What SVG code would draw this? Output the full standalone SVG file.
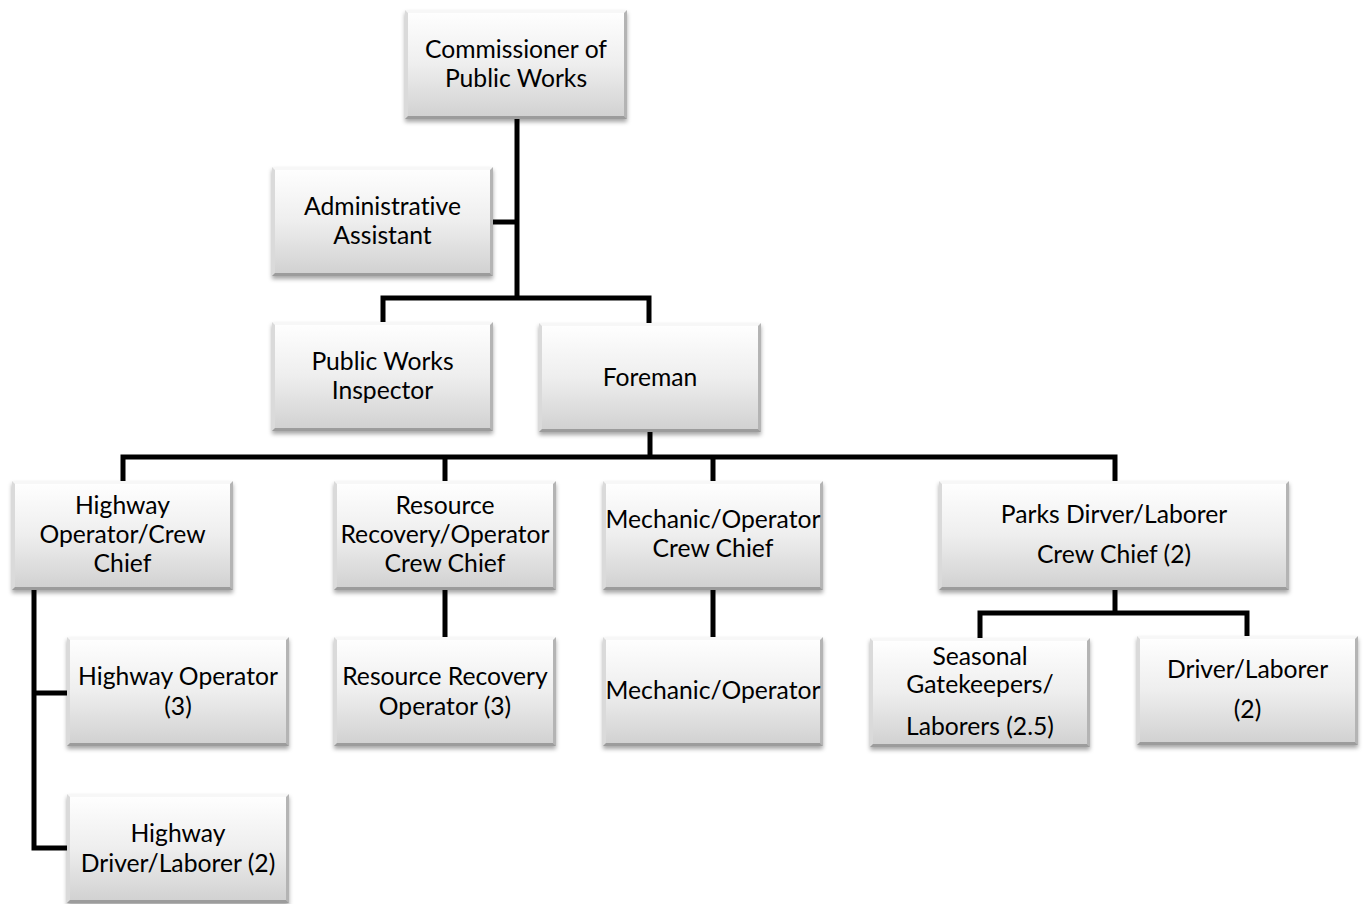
<svg xmlns="http://www.w3.org/2000/svg" width="1366" height="904" viewBox="0 0 1366 904">
<defs>
<linearGradient id="g" x1="0" y1="0" x2="0" y2="1">
<stop offset="0" stop-color="#ffffff"/>
<stop offset="0.5" stop-color="#eeeeee"/>
<stop offset="1" stop-color="#d0d0d0"/>
</linearGradient>
<filter id="sh" x="-5%" y="-5%" width="110%" height="120%">
<feDropShadow dx="0" dy="3" stdDeviation="2" flood-color="#000" flood-opacity="0.35"/>
</filter>
</defs>
<style>
.body{fill:url(#g);filter:url(#sh)}
.bt{fill:#f7f7f7}
.bl{fill:#dadada}
.br{fill:#b4b4b4}
.bb{fill:#9c9c9c}
.t{font-family:Lato,"Open Sans","Liberation Sans",sans-serif;font-size:24.7px;fill:#000;text-anchor:middle;font-variant-ligatures:none;font-feature-settings:"liga" 0,"clig" 0,"dlig" 0}
.c{fill:none;stroke:#000;stroke-width:5;stroke-linejoin:miter;stroke-linecap:butt}
</style>
<rect width="1366" height="904" fill="#fff"/>
<g id="connectors">
<path class="c" d="M517,119 V298"/>
<path class="c" d="M493,222 H517"/>
<path class="c" d="M383,322 V298 H649 V323"/>
<path class="c" d="M650,432 V457"/>
<path class="c" d="M123,481 V457 H1115 V481"/>
<path class="c" d="M445,457 V481"/>
<path class="c" d="M713,457 V481"/>
<path class="c" d="M34,590 V848 H67"/>
<path class="c" d="M34,693 H67"/>
<path class="c" d="M445,590 V637"/>
<path class="c" d="M713,590 V637"/>
<path class="c" d="M1115,590 V613"/>
<path class="c" d="M980,638 V613 H1247 V636"/>
</g>
<g id="n1">
<rect class="body" x="405" y="10" width="222" height="109"/>
<polygon class="bt" points="405,10 627,10 624,13 408,13"/><polygon class="bl" points="405,10 408,13 408,116 405,119"/><polygon class="br" points="627,10 627,119 624,116 624,13"/><polygon class="bb" points="405,119 408,116 624,116 627,119"/>
<text class="t" x="516" y="58">Commissioner of</text><text class="t" x="516" y="87">Public Works</text>
</g>
<g id="n2">
<rect class="body" x="272" y="167" width="221" height="109"/>
<polygon class="bt" points="272,167 493,167 490,170 275,170"/><polygon class="bl" points="272,167 275,170 275,273 272,276"/><polygon class="br" points="493,167 493,276 490,273 490,170"/><polygon class="bb" points="272,276 275,273 490,273 493,276"/>
<text class="t" x="382.5" y="215">Administrative</text><text class="t" x="382.5" y="244">Assistant</text>
</g>
<g id="n3">
<rect class="body" x="272" y="322" width="221" height="109"/>
<polygon class="bt" points="272,322 493,322 490,325 275,325"/><polygon class="bl" points="272,322 275,325 275,428 272,431"/><polygon class="br" points="493,322 493,431 490,428 490,325"/><polygon class="bb" points="272,431 275,428 490,428 493,431"/>
<text class="t" x="382.5" y="370">Public Works</text><text class="t" x="382.5" y="399">Inspector</text>
</g>
<g id="n4">
<rect class="body" x="539" y="323" width="222" height="109"/>
<polygon class="bt" points="539,323 761,323 758,326 542,326"/><polygon class="bl" points="539,323 542,326 542,429 539,432"/><polygon class="br" points="761,323 761,432 758,429 758,326"/><polygon class="bb" points="539,432 542,429 758,429 761,432"/>
<text class="t" x="650" y="386">Foreman</text>
</g>
<g id="n5">
<rect class="body" x="12" y="481" width="221" height="109"/>
<polygon class="bt" points="12,481 233,481 230,484 15,484"/><polygon class="bl" points="12,481 15,484 15,587 12,590"/><polygon class="br" points="233,481 233,590 230,587 230,484"/><polygon class="bb" points="12,590 15,587 230,587 233,590"/>
<text class="t" x="122.5" y="514">Highway</text><text class="t" x="122.5" y="543">Operator/Crew</text><text class="t" x="122.5" y="572">Chief</text>
</g>
<g id="n6">
<rect class="body" x="334" y="481" width="222" height="109"/>
<polygon class="bt" points="334,481 556,481 553,484 337,484"/><polygon class="bl" points="334,481 337,484 337,587 334,590"/><polygon class="br" points="556,481 556,590 553,587 553,484"/><polygon class="bb" points="334,590 337,587 553,587 556,590"/>
<text class="t" x="445" y="514">Resource</text><text class="t" x="445" y="543">Recovery/Operator</text><text class="t" x="445" y="572">Crew Chief</text>
</g>
<g id="n7">
<rect class="body" x="603" y="481" width="220" height="109"/>
<polygon class="bt" points="603,481 823,481 820,484 606,484"/><polygon class="bl" points="603,481 606,484 606,587 603,590"/><polygon class="br" points="823,481 823,590 820,587 820,484"/><polygon class="bb" points="603,590 606,587 820,587 823,590"/>
<text class="t" x="713" y="528">Mechanic/Operator</text><text class="t" x="713" y="557">Crew Chief</text>
</g>
<g id="n8">
<rect class="body" x="939" y="481" width="350" height="109"/>
<polygon class="bt" points="939,481 1289,481 1286,484 942,484"/><polygon class="bl" points="939,481 942,484 942,587 939,590"/><polygon class="br" points="1289,481 1289,590 1286,587 1286,484"/><polygon class="bb" points="939,590 942,587 1286,587 1289,590"/>
<text class="t" x="1114" y="523">Parks Dirver/Laborer</text><text class="t" x="1114" y="563">Crew Chief (2)</text>
</g>
<g id="n9">
<rect class="body" x="67" y="637" width="222" height="109"/>
<polygon class="bt" points="67,637 289,637 286,640 70,640"/><polygon class="bl" points="67,637 70,640 70,743 67,746"/><polygon class="br" points="289,637 289,746 286,743 286,640"/><polygon class="bb" points="67,746 70,743 286,743 289,746"/>
<text class="t" x="178" y="685">Highway Operator</text><text class="t" x="178" y="715">(3)</text>
</g>
<g id="n10">
<rect class="body" x="334" y="637" width="222" height="109"/>
<polygon class="bt" points="334,637 556,637 553,640 337,640"/><polygon class="bl" points="334,637 337,640 337,743 334,746"/><polygon class="br" points="556,637 556,746 553,743 553,640"/><polygon class="bb" points="334,746 337,743 553,743 556,746"/>
<text class="t" x="445" y="685">Resource Recovery</text><text class="t" x="445" y="715">Operator (3)</text>
</g>
<g id="n11">
<rect class="body" x="603" y="637" width="220" height="109"/>
<polygon class="bt" points="603,637 823,637 820,640 606,640"/><polygon class="bl" points="603,637 606,640 606,743 603,746"/><polygon class="br" points="823,637 823,746 820,743 820,640"/><polygon class="bb" points="603,746 606,743 820,743 823,746"/>
<text class="t" x="713" y="699">Mechanic/Operator</text>
</g>
<g id="n12">
<rect class="body" x="870" y="638" width="220" height="109"/>
<polygon class="bt" points="870,638 1090,638 1087,641 873,641"/><polygon class="bl" points="870,638 873,641 873,744 870,747"/><polygon class="br" points="1090,638 1090,747 1087,744 1087,641"/><polygon class="bb" points="870,747 873,744 1087,744 1090,747"/>
<text class="t" x="980" y="665">Seasonal</text><text class="t" x="980" y="693">Gatekeepers/</text><text class="t" x="980" y="735">Laborers (2.5)</text>
</g>
<g id="n13">
<rect class="body" x="1137" y="636" width="221" height="109"/>
<polygon class="bt" points="1137,636 1358,636 1355,639 1140,639"/><polygon class="bl" points="1137,636 1140,639 1140,742 1137,745"/><polygon class="br" points="1358,636 1358,745 1355,742 1355,639"/><polygon class="bb" points="1137,745 1140,742 1355,742 1358,745"/>
<text class="t" x="1247.5" y="678">Driver/Laborer</text><text class="t" x="1247.5" y="718">(2)</text>
</g>
<g id="n14">
<rect class="body" x="67" y="794" width="222" height="109"/>
<polygon class="bt" points="67,794 289,794 286,797 70,797"/><polygon class="bl" points="67,794 70,797 70,900 67,903"/><polygon class="br" points="289,794 289,903 286,900 286,797"/><polygon class="bb" points="67,903 70,900 286,900 289,903"/>
<text class="t" x="178" y="842">Highway</text><text class="t" x="178" y="872">Driver/Laborer (2)</text>
</g>
</svg>
